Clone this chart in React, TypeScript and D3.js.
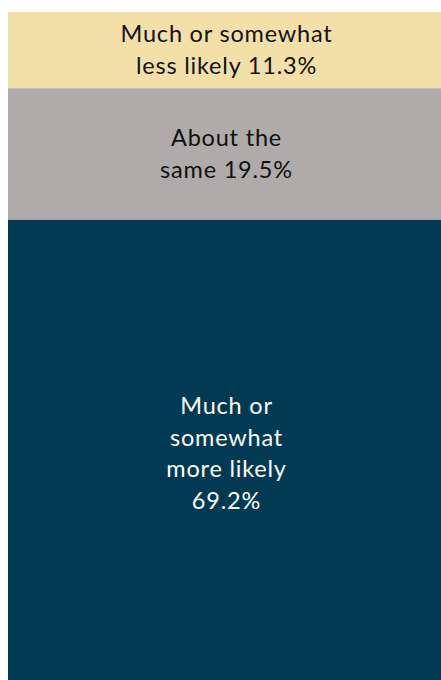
import React from "react";
import * as d3 from "d3";

const categories = ["Much or somewhat less likely", "About the same", "Much or somewhat more likely"];
const values = [11.3, 19.5, 69.2];
const labelLines = [
  ["Much or somewhat", "less likely 11.3%"],
  ["About the", "same 19.5%"],
  ["Much or", "somewhat", "more likely", "69.2%"],
];
const colors = ["#F3E0A8", "#AFABAB", "#023A54"];
const textColors = ["#111111", "#111111", "#FFFFFF"];

export default function App() {
  const W = 441;
  const H = 680;
  const x0 = 8;
  const x1 = 441;
  const y = d3.scaleLinear().domain([0, 100]).range([12, 687]);
  const ends = Array.from(d3.cumsum(values));
  const starts = ends.map((e, i) => e - values[i]);
  const fontSize = 23.5;
  const lineH = 31.5;
  return (
    <svg
      width={W}
      height={H}
      style={{ position: "fixed", left: 0, top: 0, background: "#fff" }}
    >
      {categories.map((c, i) => {
        const top = y(starts[i]);
        const bot = y(ends[i]);
        const cy = (top + bot) / 2;
        const lines = labelLines[i];
        const firstBase = cy - ((lines.length - 1) * lineH) / 2 + 15.7 / 2;
        return (
          <g key={c}>
            <rect x={x0} y={top} width={x1 - x0} height={bot - top} fill={colors[i]} />
            <text
              textAnchor="middle"
              fontFamily="Lato, 'Open Sans', sans-serif"
              fontSize={fontSize}
              letterSpacing={0.8}
              fill={textColors[i]}
            >
              {lines.map((l, k) => (
                <tspan key={k} x={(x0 + x1) / 2 + 2} y={firstBase + k * lineH}>
                  {l}
                </tspan>
              ))}
            </text>
          </g>
        );
      })}
    </svg>
  );
}
